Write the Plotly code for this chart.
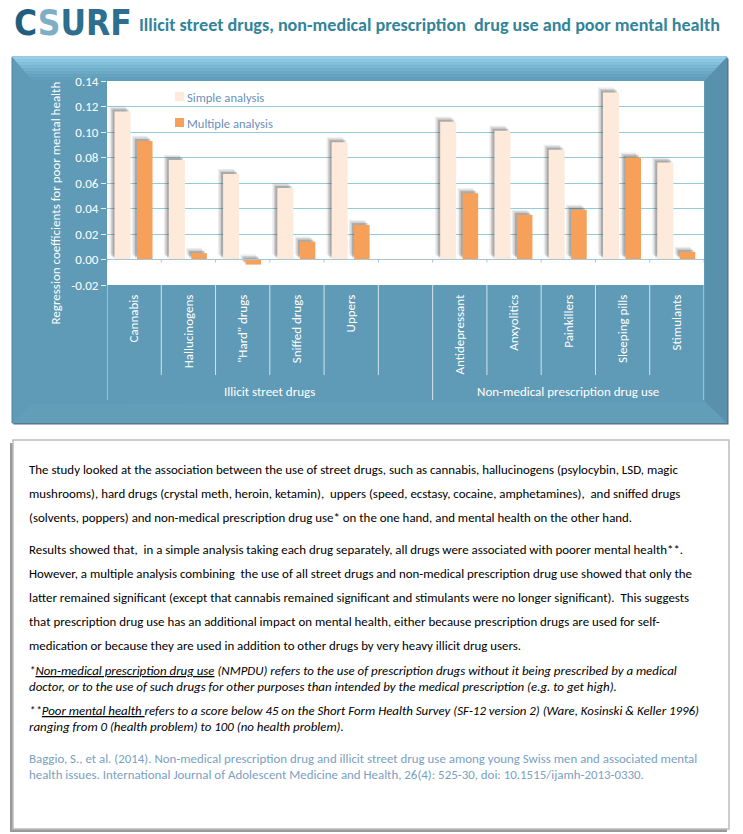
import plotly.graph_objects as go

# ---------------- data ----------------
categories = ["Cannabis", "Hallucinogens", "\"Hard\" drugs", "Sniffed drugs", "Uppers", "",
              "Antidepressant", "Anxyolitics", "Painkillers", "Sleeping pills", "Stimulants"]
simple_analysis = [0.116, 0.078, 0.067, 0.056, 0.092, None, 0.108, 0.101, 0.086, 0.131, 0.076]
multiple_analysis = [0.093, 0.005, -0.004, 0.014, 0.027, None, 0.052, 0.035, 0.039, 0.080, 0.006]
group_labels = ["Illicit street drugs", "Non-medical prescription drug use"]
group_spans = [(0, 5), (6, 10)]
y_ticks = [-0.02, 0.0, 0.02, 0.04, 0.06, 0.08, 0.10, 0.12, 0.14]

W, H = 743, 834
L, R, T, B = 107, 39, 81, 549
PW, PH = W - L - R, H - T - B
YMIN, YMAX = -0.02, 0.14


def px(x):
    return (x - L) / PW


def py(y):
    return (H - B - y) / PH


FONT = "Carlito, Calibri, 'Liberation Sans Narrow', 'Open Sans', sans-serif"
FRAME = "#5F9AB6"
SIMPLE_C = "#FDEADA"
MULTI_C = "#F7A05A"
TXT = 13

xs = list(range(len(categories)))
ncat = len(categories)
cat_px = PW / ncat
upd = (YMAX - YMIN) / PH  # data units per pixel

s_off, s_w = -0.361, 0.295
m_off, m_w = 0.053, 0.286

fig = go.Figure()


def shadow(vals, off, w, dx, dy, op):
    base = [None if v is None else min(v, 0) + dy * upd for v in vals]
    ys = [None if v is None else abs(v) for v in vals]
    fig.add_trace(go.Bar(x=xs, y=ys, base=base, offset=off - dx / cat_px, width=w,
                         marker=dict(color="rgba(60,60,60,%s)" % op, line=dict(width=0)),
                         showlegend=False, hoverinfo="skip"))


for vals, off, w in [(simple_analysis, s_off, s_w), (multiple_analysis, m_off, m_w)]:
    shadow(vals, off, w, 5, 5, 0.10)
    shadow(vals, off, w, 3.5, 3.5, 0.16)
    shadow(vals, off, w, 2, 2, 0.25)

fig.add_trace(go.Bar(x=xs, y=simple_analysis, offset=s_off, width=s_w, name="Simple analysis",
                     marker=dict(color=SIMPLE_C, line=dict(width=0)), showlegend=False))
fig.add_trace(go.Bar(x=xs, y=multiple_analysis, offset=m_off, width=m_w, name="Multiple analysis",
                     marker=dict(color=MULTI_C, line=dict(width=0)), showlegend=False))

shapes = []
# chart frame
shapes.append(dict(type="rect", xref="paper", yref="paper", x0=px(13.5), x1=px(728.5), y0=py(58.5), y1=py(424.5),
                   fillcolor="#56707E", line=dict(width=0), layer="below"))
shapes.append(dict(type="rect", xref="paper", yref="paper", x0=px(12), x1=px(727), y0=py(57), y1=py(423),
                   fillcolor=FRAME, line=dict(color="#4F86A0", width=1), layer="below"))
# right bevel (darker)
shapes.append(dict(type="path", xref="paper", yref="paper",
                   path="M %f,%f L %f,%f L %f,%f L %f,%f Z" % (px(727), py(57), px(705), py(80), px(705), py(402), px(727), py(423)),
                   fillcolor="#5990AB", line=dict(width=0), layer="below"))
# bottom bevel (slightly lighter)
shapes.append(dict(type="path", xref="paper", yref="paper",
                   path="M %f,%f L %f,%f L %f,%f L %f,%f Z" % (px(12), py(423), px(32), py(404), px(705), py(402), px(727), py(423)),
                   fillcolor="#639EB9", line=dict(width=0), layer="below"))
# top bevel gradient strips
top_cols = ["#92D0EC", "#8AC8E4", "#82C0DC", "#7AB8D4", "#72B0CC", "#6BA9C5", "#66A3BF", "#629FBB"]
n = len(top_cols)
for i, c in enumerate(top_cols):
    y0 = 57 + i * 23 / n
    y1 = 57 + (i + 1) * 23 / n
    xl0 = 12 + (y0 - 57) * 0.87
    xl1 = 12 + (y1 - 57) * 0.87
    xr0 = 727 - (y0 - 57) * 0.95
    xr1 = 727 - (y1 - 57) * 0.95
    shapes.append(dict(type="path", xref="paper", yref="paper",
                       path="M %f,%f L %f,%f L %f,%f L %f,%f Z" % (px(xl0), py(y0), px(xr0), py(y0), px(xr1), py(y1), px(xl1), py(y1)),
                       fillcolor=c, line=dict(width=0), layer="below"))
# plot area
shapes.append(dict(type="rect", xref="paper", yref="paper", x0=0, x1=1, y0=0, y1=1,
                   fillcolor="white", line=dict(width=0), layer="below"))

# zero axis line and small ticks
shapes.append(dict(type="line", xref="paper", yref="y", x0=0, x1=1, y0=0, y1=0,
                   line=dict(color="#A9C4D2", width=1)))
for k in range(ncat + 1):
    shapes.append(dict(type="line", xref="x", yref="y", x0=k - 0.5, x1=k - 0.5, y0=0, y1=-3 * upd,
                       line=dict(color="#A9C4D2", width=1)))
# category separators below plot
group_bounds = {-0.5, 5.5, 10.5}
for k in range(ncat + 1):
    xb = k - 0.5
    bottom = 400 if xb in group_bounds else 375
    shapes.append(dict(type="line", xref="x", yref="paper", x0=xb, x1=xb, y0=py(285), y1=py(bottom),
                       line=dict(color="#D5E4EC", width=1)))

# text box
shapes.append(dict(type="rect", xref="paper", yref="paper", x0=px(10), x1=px(727), y0=py(443), y1=py(832),
                   fillcolor="#9A9A9A", line=dict(width=0), layer="below"))
shapes.append(dict(type="rect", xref="paper", yref="paper", x0=px(13), x1=px(729), y0=py(440), y1=py(829),
                   fillcolor="white", line=dict(color="#BDBDBD", width=1.5), layer="below"))

# legend
shapes.append(dict(type="rect", xref="paper", yref="paper", x0=px(175), x1=px(184), y0=py(92), y1=py(101),
                   fillcolor=SIMPLE_C, line=dict(width=0)))
shapes.append(dict(type="rect", xref="paper", yref="paper", x0=px(175), x1=px(184), y0=py(118), y1=py(127),
                   fillcolor=MULTI_C, line=dict(width=0)))

ann = []
LEG_C = "#6B8FBD"
ann.append(dict(text="Simple analysis", x=px(185), y=py(97), xref="paper", yref="paper", xanchor="left",
                yanchor="middle", showarrow=False, font=dict(family=FONT, size=12.6, color=LEG_C)))
ann.append(dict(text="Multiple analysis", x=px(185), y=py(123), xref="paper", yref="paper", xanchor="left",
                yanchor="middle", showarrow=False, font=dict(family=FONT, size=12.6, color=LEG_C)))

# y axis title
ann.append(dict(text="Regression coefficients for poor mental health", x=px(45), y=py(203), xref="paper", yref="paper",
                textangle=-90, showarrow=False, font=dict(family=FONT, size=TXT, color="white")))

# group labels
for lab, (a, b) in zip(group_labels, group_spans):
    ann.append(dict(text=lab, x=(a + b) / 2, y=py(391), xref="x", yref="paper", showarrow=False,
                    yanchor="middle", font=dict(family=FONT, size=TXT, color="white")))

# logo & title
ann.append(dict(text="<b><span style='color:#1F5E7E'>C</span><span style='color:#7FAFC6'>S</span>"
                     "<span style='color:#2E6E8F'>URF</span></b>",
                x=px(12), y=py(23), xref="paper", yref="paper", xanchor="left", yanchor="middle",
                showarrow=False, font=dict(family="'DejaVu Sans Condensed', 'Liberation Sans Narrow', sans-serif", size=35)))
ann.append(dict(text="<b>Illicit street drugs, non-medical prescription  drug use and poor mental health</b>",
                x=px(137), y=py(25), xref="paper", yref="paper", xanchor="left", yanchor="middle",
                showarrow=False, font=dict(family=FONT, size=18.1, color="#31849B")))

# body text
body = [
    (469, "The study looked at the association between the use of street drugs, such as cannabis, hallucinogens (psylocybin, LSD, magic", "black"),
    (493, "mushrooms), hard drugs (crystal meth, heroin, ketamin),  uppers (speed, ecstasy, cocaine, amphetamines),  and sniffed drugs", "black"),
    (517, "(solvents, poppers) and non-medical prescription drug use* on the one hand, and mental health on the other hand.", "black"),
    (549, "Results showed that,  in a simple analysis taking each drug separately, all drugs were associated with poorer mental health**.", "black"),
    (573, "However, a multiple analysis combining  the use of all street drugs and non-medical prescription drug use showed that only the", "black"),
    (597, "latter remained significant (except that cannabis remained significant and stimulants were no longer significant).  This suggests", "black"),
    (621, "that prescription drug use has an additional impact on mental health, either because prescription drugs are used for self-", "black"),
    (645, "medication or because they are used in addition to other drugs by very heavy illicit drug users.", "black"),
    (670, "<i>*<u>Non-medical prescription drug use</u> (NMPDU) refers to the use of prescription drugs without it being prescribed by a medical</i>", "black"),
    (686, "<i>doctor, or to the use of such drugs for other purposes than intended by the medical prescription (e.g. to get high).</i>", "black"),
    (710, "<i>**<u>Poor mental health </u>refers to a score below 45 on the Short Form Health Survey (SF-12 version 2) (Ware, Kosinski &amp; Keller 1996)</i>", "black"),
    (726, "<i>ranging from 0 (health problem) to 100 (no health problem).</i>", "black"),
    (758, "Baggio, S., et al. (2014). Non-medical prescription drug and illicit street drug use among young Swiss men and associated mental", "#7A9FC2"),
    (774, "health issues. International Journal of Adolescent Medicine and Health, 26(4): 525-30, doi: 10.1515/ijamh-2013-0330.", "#7A9FC2"),
]
for yy, txt, col in body:
    ann.append(dict(text=txt, x=px(27), y=py(yy), xref="paper", yref="paper", xanchor="left", yanchor="middle",
                    showarrow=False, font=dict(family=FONT, size=12.9, color=col)))

fig.update_layout(
    width=W, height=H, autosize=False,
    margin=dict(l=L, r=R, t=T, b=B),
    paper_bgcolor="white", plot_bgcolor="rgba(0,0,0,0)",
    barmode="overlay",
    showlegend=False,
    shapes=shapes, annotations=ann,
    xaxis=dict(tickmode="array", tickvals=xs, ticktext=categories, tickangle=-90,
               range=[-0.5, ncat - 0.5], showgrid=False, zeroline=False, showline=False,
               ticks="", ticklabelstandoff=6,
               tickfont=dict(family=FONT, size=TXT, color="white")),
    yaxis=dict(range=[YMIN, YMAX], tickvals=y_ticks, ticktext=["%.2f" % v for v in y_ticks],
               showgrid=True, gridcolor="#93CBDA", gridwidth=1, zeroline=False, showline=False,
               ticks="outside", ticklen=5, tickcolor="#E8F0F4",
               tickfont=dict(family=FONT, size=TXT, color="white")),
)

fig.write_html("out.html", config={"displayModeBar": False},
               post_script="document.body.style.margin='0px';document.body.style.overflow='hidden';")
